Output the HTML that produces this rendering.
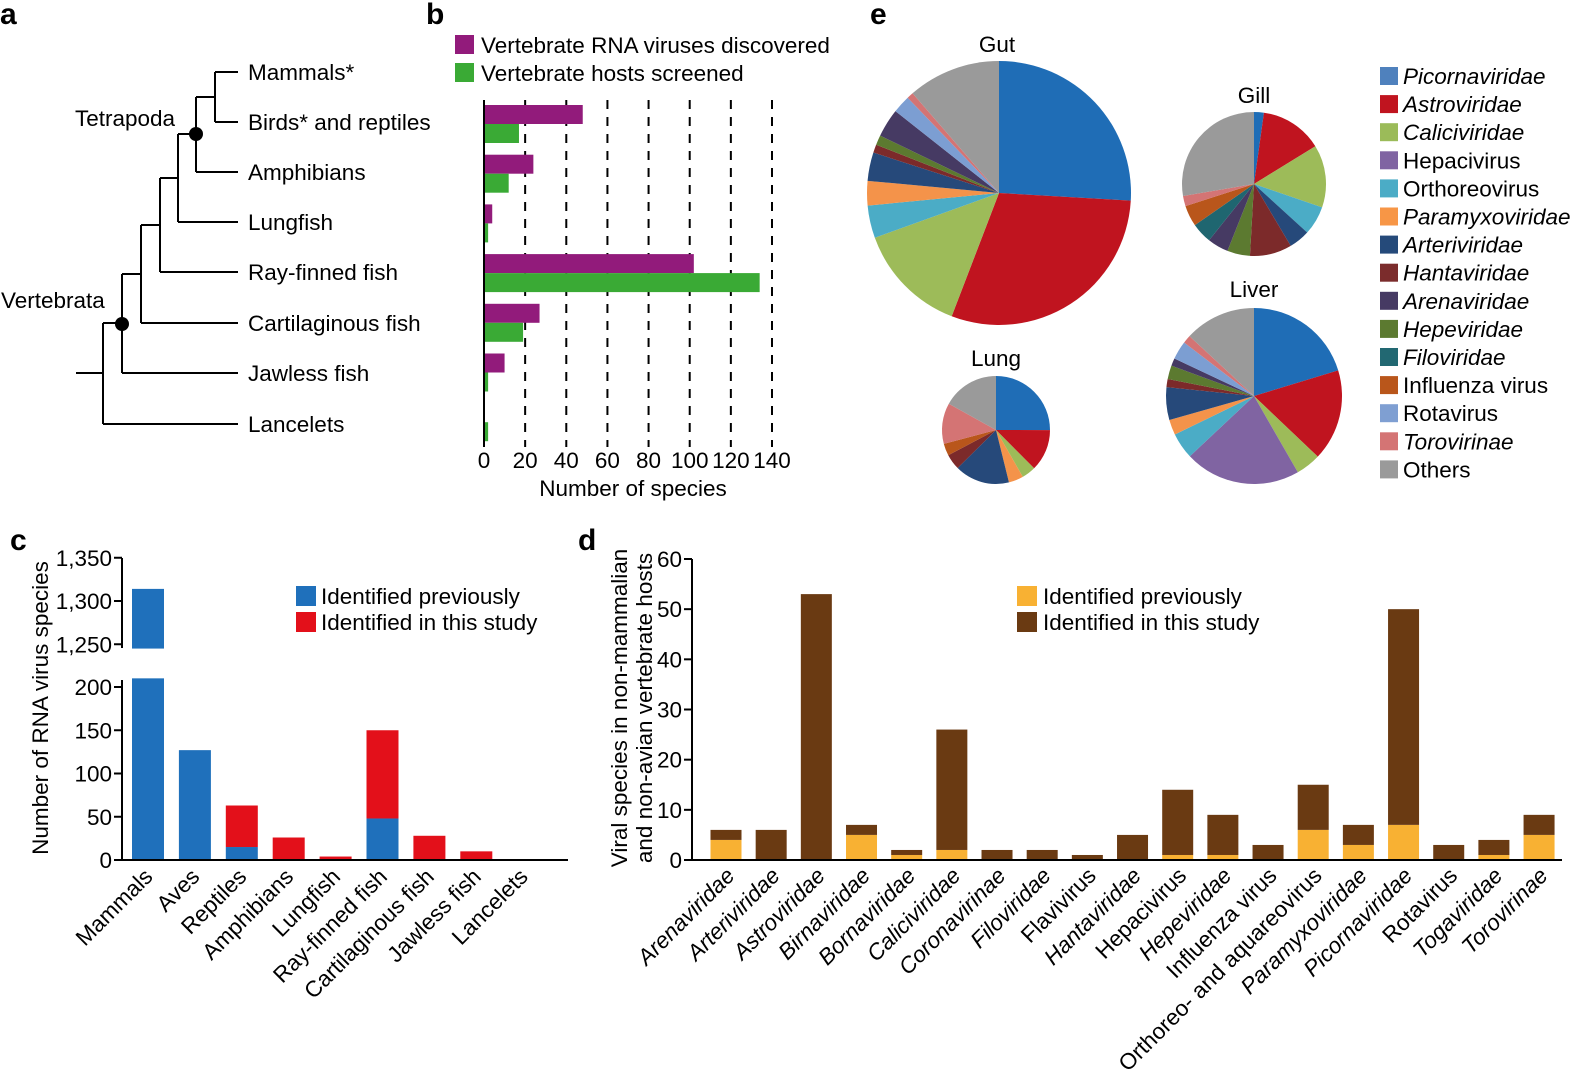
<!DOCTYPE html>
<html><head><meta charset="utf-8"><style>
body{margin:0;background:#fff}
svg{display:block;font-family:"Liberation Sans",Arial,sans-serif}
</style></head><body>
<svg id="fig" width="1594" height="1088" viewBox="0 0 1594 1088" xmlns="http://www.w3.org/2000/svg">
<g font-weight="bold" font-size="30">
<text x="0" y="24">a</text>
<text x="426" y="24">b</text>
<text x="870" y="24">e</text>
<text x="10" y="550">c</text>
<text x="578" y="550">d</text>
</g>
<g id="tree" stroke="#000" stroke-width="2" fill="none">
<path d="M215 72H238M215 122H238M215 72V122M196 97H215M196 97V172M196 172H238M178 134H196M178 134V222M178 222H238M160 178H178M160 178V272M160 272H238M141 225H160M141 225V323M141 323H238M122 274H141M122 274V373M122 373H238M103 323H122M103 323V424M103 424H238M76 373H103"/>
</g>
<circle cx="196" cy="134" r="7" fill="#000"/>
<circle cx="122" cy="324" r="7" fill="#000"/>
<g font-size="22.5">
<text x="248" y="80">Mammals*</text>
<text x="248" y="130">Birds* and reptiles</text>
<text x="248" y="180">Amphibians</text>
<text x="248" y="230">Lungfish</text>
<text x="248" y="280">Ray-finned fish</text>
<text x="248" y="331">Cartilaginous fish</text>
<text x="248" y="381">Jawless fish</text>
<text x="248" y="432">Lancelets</text>
<text x="75" y="126">Tetrapoda</text>
<text x="1" y="308">Vertebrata</text>
</g>
<g id="pb"></g>
<g id="pc"></g>
<g id="pd"></g>
<g id="pe"></g>
</svg>
<script>
// ---- Panel b data
const bGroups = ["Birds and reptiles","Amphibians","Lungfish","Ray-finned fish","Cartilaginous fish","Jawless fish","Lancelets"];
const bViruses = [48, 24, 4, 102, 27, 10, 0];
const bHosts = [17, 12, 2, 134, 19, 2, 2];
const bTicks = [0,20,40,60,80,100,120,140];
// ---- Panel c data
const cGroups = ["Mammals","Aves","Reptiles","Amphibians","Lungfish","Ray-finned fish","Cartilaginous fish","Jawless fish","Lancelets"];
const cPrev = [1314, 127, 15, 1, 0, 48, 0, 0, 0];
const cNew = [0, 0, 48, 25, 4, 102, 28, 10, 0];
const cTicksLow = [0,50,100,150,200];
const cTicksHigh = [1250,1300,1350];
// ---- Panel d data
const dFamilies = ["Arenaviridae","Arteriviridae","Astroviridae","Birnaviridae","Bornaviridae","Caliciviridae","Coronavirinae","Filoviridae","Flavivirus","Hantaviridae","Hepacivirus","Hepeviridae","Influenza virus","Orthoreo- and aquareovirus","Paramyxoviridae","Picornaviridae","Rotavirus","Togaviridae","Torovirinae"];
const dItalic = [1,1,1,1,1,1,1,1,0,1,0,1,0,0,1,1,0,1,1];
const dPrev = [4,0,0,5,1,2,0,0,0,0,1,1,0,6,3,7,0,1,5];
const dNew = [2,6,53,2,1,24,2,2,1,5,13,8,3,9,4,43,3,3,4];
const dTicks = [0,10,20,30,40,50,60];
// ---- Panel e data
const eFamilies = ["Picornaviridae","Astroviridae","Caliciviridae","Hepacivirus","Orthoreovirus","Paramyxoviridae","Arteriviridae","Hantaviridae","Arenaviridae","Hepeviridae","Filoviridae","Influenza virus","Rotavirus","Torovirinae","Others"];
const eItalic = [1,1,1,0,0,1,1,1,1,1,1,0,0,1,0];
const eColors = ["#1f6db6","#c0141f","#9dbb59","#8064a2","#4bacc6","#f4934a","#26497a","#7c2a2a","#463a63","#5c7a30","#1f6670","#b9561b","#7c9ed2","#d47474","#9a9a9a"];
const eLegendColors = ["#4f81bd","#c0141f","#9bbb59","#8064a2","#4bacc6","#f79646","#254a7a","#7b2c2c","#463a63","#5c7a30","#226872","#b9561b","#7f9fd2","#d47474","#9a9a9a"];
const eOrder = [0,1,2,3,4,5,6,7,9,8,10,11,12,13,14];
const gutVals = [26,30,13.7,0,4,3,3.5,1,3.5,1.2,0,0,2.2,0.8,11.4];
const gillVals = [2.2,14,14,0,6.5,0,4.7,9.4,4.7,5.1,4.6,4.7,0,2.3,27.6];
const lungVals = [25,12.5,4.2,0,0,4.4,16.4,4.7,0,0,0,3.6,0,12.2,16.9];
const liverVals = [20.3,16.8,4.6,21.3,4.8,2.8,6,1.5,1.4,2.5,0,0,3.4,1.5,13.1];

const FS=22.5;
const NS="http://www.w3.org/2000/svg";
function mk(tag, attrs, parent){const e=document.createElementNS(NS,tag);for(const k in attrs)e.setAttribute(k,attrs[k]);parent.appendChild(e);return e;}

// ===== Panel b
(function(){
const g=document.getElementById('pb');
const x0=484, xs=288/140; const X=v=>x0+v*xs;
const rowY=i=>105+i*49.7;
bTicks.forEach(t=>{
 if(t>0){const l=mk('line',{x1:X(t),x2:X(t),y1:100,y2:447,stroke:'#000','stroke-width':2,'stroke-dasharray':'9,8'},g);
 
 }
 const tx=mk('text',{x:X(t),y:468,'font-size':FS,'text-anchor':'middle'},g);tx.textContent=t;
 
 
});
bGroups.forEach((n,i)=>{
 const y=rowY(i);
 const r1=mk('rect',{x:x0,y:y,width:bViruses[i]*xs,height:19,fill:'#921b7b'},g);
 
 
 const r2=mk('rect',{x:x0,y:y+19,width:bHosts[i]*xs,height:19,fill:'#3aaa35'},g);
 
 
});
const ax=mk('line',{x1:x0,x2:x0,y1:100,y2:447,stroke:'#000','stroke-width':2},g);


const t=mk('text',{x:633,y:496,'font-size':FS,'text-anchor':'middle'},g);t.textContent='Number of species';


const lg=[['#921b7b','Vertebrate RNA viruses discovered',35],['#3aaa35','Vertebrate hosts screened',63]];
lg.forEach((d,i)=>{const r=mk('rect',{x:455,y:d[2],width:19,height:19,fill:d[0]},g);
 
 
 const tx=mk('text',{x:481,y:d[2]+18,'font-size':FS},g);tx.textContent=d[1];
 
 });
})();

// ===== Panel c
(function(){
const g=document.getElementById('pc');
const ax=122, y0=860, s=43.25/50;
const Ylow=v=>y0-v*s;
const Yhigh=v=>601-(v-1300)*s;
const Y=v=>v<=210?Ylow(v):Yhigh(v);
const bx=i=>132+i*46.9;
cGroups.forEach((n,i)=>{
 const p=cPrev[i], q=cNew[i];
 if(p>210){
  const a=mk('rect',{x:bx(i),y:Ylow(210),width:32,height:Ylow(0)-Ylow(210),fill:'#1f70bb'},g);
  
  
  const b=mk('rect',{x:bx(i),y:Yhigh(p),width:32,height:Yhigh(1245)-Yhigh(p),fill:'#1f70bb'},g);
  
  
 } else {
  if(p>0){const a=mk('rect',{x:bx(i),y:Ylow(p),width:32,height:p*s,fill:'#1f70bb'},g);
  
  }
  if(q>0){const b=mk('rect',{x:bx(i),y:Ylow(p+q),width:32,height:q*s,fill:'#e3101a'},g);
  
  }
 }
 const t=mk('text',{'font-size':FS,'text-anchor':'end',transform:`translate(${bx(i)+22},${878}) rotate(-45)`},g);t.textContent=n;
 
 
});
const a1=mk('path',{d:`M${ax} 558V648M${ax} 680V860H568`,stroke:'#000','stroke-width':2,fill:'none'},g);


cTicksLow.concat(cTicksHigh).forEach(v=>{
 const y=Y(v);
 const l=mk('line',{x1:ax-8,x2:ax,y1:y,y2:y,stroke:'#000','stroke-width':2},g);
 
 
 const t=mk('text',{x:ax-10,y:y+8,'font-size':FS,'text-anchor':'end'},g);t.textContent=v>=1000?v.toLocaleString('en-US'):v;
 
 
});
const tt=mk('text',{'font-size':FS,'text-anchor':'middle',transform:'translate(48,708) rotate(-90)'},g);tt.textContent='Number of RNA virus species';


[['#1f70bb','Identified previously',586],['#e3101a','Identified in this study',612]].forEach((d,i)=>{
 const r=mk('rect',{x:296,y:d[2],width:20,height:20,fill:d[0]},g);
 
 
 const t=mk('text',{x:321,y:d[2]+18,'font-size':FS},g);t.textContent=d[1];
 
 
});
})();

// ===== Panel d
(function(){
const g=document.getElementById('pd');
const ax=692, y0=860, s=301/60; const Y=v=>y0-v*s;
const cx=i=>726+i*45.17;
dFamilies.forEach((n,i)=>{
 const p=dPrev[i], q=dNew[i];
 if(p>0){const a=mk('rect',{x:cx(i)-15.5,y:Y(p),width:31,height:p*s,fill:'#f8b133'},g);
 
 }
 if(q>0){const b=mk('rect',{x:cx(i)-15.5,y:Y(p+q),width:31,height:q*s,fill:'#6a3a12'},g);
 
 }
 const t=mk('text',{'font-size':FS,'text-anchor':'end','font-style':dItalic[i]?'italic':'normal',transform:`translate(${cx(i)+10},${877}) rotate(-45)`},g);t.textContent=n;
 
 
});
const a1=mk('path',{d:`M${ax} 559V860H1562`,stroke:'#000','stroke-width':2,fill:'none'},g);


dTicks.forEach(v=>{
 const l=mk('line',{x1:ax-8,x2:ax,y1:Y(v),y2:Y(v),stroke:'#000','stroke-width':2},g);
 
 
 const t=mk('text',{x:ax-10,y:Y(v)+8,'font-size':FS,'text-anchor':'end'},g);t.textContent=v;
 
 
});
const t1=mk('text',{'font-size':FS,'text-anchor':'middle',transform:'translate(627,708) rotate(-90)'},g);t1.textContent='Viral species in non-mammalian';


const t2=mk('text',{'font-size':FS,'text-anchor':'middle',transform:'translate(652,708) rotate(-90)'},g);t2.textContent='and non-avian vertebrate hosts';


[['#f8b133','Identified previously',586],['#6a3a12','Identified in this study',612]].forEach((d,i)=>{
 const r=mk('rect',{x:1017,y:d[2],width:20,height:20,fill:d[0]},g);
 
 
 const t=mk('text',{x:1043,y:d[2]+18,'font-size':FS},g);t.textContent=d[1];
 
 
});
})();

// ===== Panel e
(function(){
const g=document.getElementById('pe');
function pie(name,vals,cx,cy,r,lx,ly){
 const tot=vals.reduce((a,b)=>a+b,0);
 let acc=0;
 eOrder.forEach(k=>{
  const v=vals[k]; if(v<=0)return;
  const a0=acc/tot*2*Math.PI; acc+=v; const a1=acc/tot*2*Math.PI;
  const x0=cx+r*Math.sin(a0), y0=cy-r*Math.cos(a0), x1=cx+r*Math.sin(a1), y1=cy-r*Math.cos(a1);
  const large=(a1-a0)>Math.PI?1:0;
  const p=mk('path',{d:`M${cx} ${cy}L${x0} ${y0}A${r} ${r} 0 ${large} 1 ${x1} ${y1}Z`,fill:eColors[k]},g);
  
  
 });
 const t=mk('text',{x:lx,y:ly,'font-size':FS,'text-anchor':'middle'},g);t.textContent=name;
 
 
}
pie('Gut',gutVals,999,193,132,997,52);
pie('Gill',gillVals,1254,184,72,1254,103);
pie('Lung',lungVals,996,430,54,996,366);
pie('Liver',liverVals,1254,396,88,1254,297);
eFamilies.forEach((n,i)=>{
 const y=67+i*28.1;
 const r=mk('rect',{x:1380,y:y,width:18,height:18,fill:eLegendColors[i]},g);
 
 
 const t=mk('text',{x:1403,y:y+17,'font-size':FS,'font-style':eItalic[i]?'italic':'normal'},g);t.textContent=n;
 
 
});
})();
</script>
</body></html>
